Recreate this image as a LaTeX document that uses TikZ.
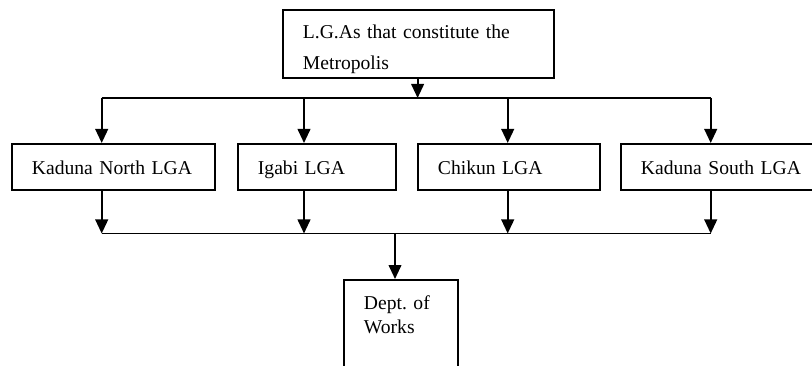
\documentclass[tikz,border=0pt]{standalone}
\usepackage{fontspec}
\setmainfont{Liberation Serif}
\usetikzlibrary{arrows.meta}
\frenchspacing

\begin{document}
\begin{tikzpicture}[x=0.75pt, y=-0.75pt,
  box/.style={draw, line width=1.4pt, inner xsep=15pt, inner ysep=0pt,
    align=left, font=\fontsize{14.7pt}{23.25pt}\selectfont},
  rowbox/.style={box, text height=22.7pt, text depth=11.8pt},
  link/.style={line width=1.4pt},
  arrow/.style={link, -{Triangle[width=9.5pt, length=10.5pt]}}]

\useasboundingbox (0,0) rectangle (812,366);
\clip (0,0) rectangle (812,366);

% top box
\node[box, anchor=north west, text width=173.25pt, text height=21.2pt, text depth=29.8pt]
  (top) at (282,9) {L.G.As that constitute the\\Metropolis};

% the four local government areas
\node[rowbox, anchor=north west, text width=122.25pt] (kn) at (11,143) {Kaduna North LGA};
\node[rowbox, anchor=north west, text width=88.5pt]   (ig) at (237,143) {Igabi LGA};
\node[rowbox, anchor=north west, text width=106.5pt]  (ch) at (417,143) {Chikun LGA};
\node[rowbox, anchor=north west, text width=140pt]    (ks) at (620,143) {Kaduna South LGA};

% department box (runs past the lower edge)
\node[box, anchor=north west, text width=55.5pt, text height=22.5pt, text depth=53pt,
  font=\fontsize{14.7pt}{18pt}\selectfont]
  (dept) at (343,279) {Dept. of\\Works};

% distribution bar and drop points
\coordinate (tj) at (417.6,98);
\coordinate (d1) at (101.7,98);
\coordinate (d2) at (304,98);
\coordinate (d3) at (507.7,98);
\coordinate (d4) at (710.7,98);
\coordinate (bj) at (395,233.5);

\draw[arrow] (top.south -| tj) -- (tj);
\draw[link] (d1) -- (d4);
\foreach \d/\b in {d1/kn, d2/ig, d3/ch, d4/ks}
  \draw[arrow] (\d) -- (\d |- \b.north);

% collecting bar
\foreach \d/\b in {d1/kn, d2/ig, d3/ch, d4/ks}
  \draw[arrow] (\d |- \b.south) -- (\d |- bj);
\draw[link] (d1 |- bj) -- (d4 |- bj);
\draw[arrow] (bj) -- (bj |- dept.north);

\end{tikzpicture}
\end{document}
